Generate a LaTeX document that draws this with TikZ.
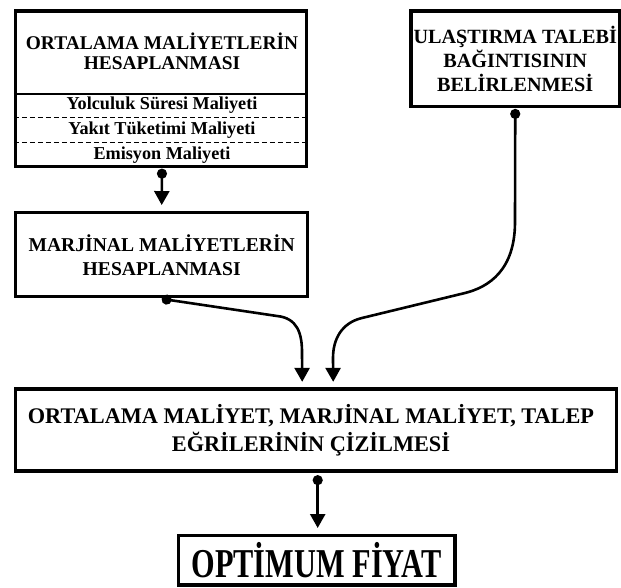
\documentclass[tikz,border=0pt]{standalone}
\usepackage{fontspec}
\usepackage{graphicx}
\setmainfont{Liberation Serif}
\usetikzlibrary{arrows.meta,calc}
\begin{document}
\begin{tikzpicture}[x=1pt,y=-1pt,
  box/.style={draw, line width=3.3pt, inner sep=0pt, align=center},
  lbl/.style={inner sep=0pt, align=center, font=\bfseries},
  divider/.style={line width=2.6pt},
  dashdiv/.style={line width=0.9pt, dash pattern=on 5pt off 3pt},
  conn/.style={line width=2.6pt, {Circle[length=10pt]}-{Triangle[width=15pt,length=14pt]}}]
\useasboundingbox (0,0) rectangle (621,588);

% Box 1: Ortalama maliyetler
\node[box, minimum width=291pt, minimum height=155.5pt] (ort) at (161,88.75) {};
\node[lbl, font=\bfseries\fontsize{19.4}{20}\selectfont] (ortt) at (162,51.5) {ORTALAMA MALİYETLERİN\\HESAPLANMASI};
\draw[divider] (ort.west |- 0,94) coordinate (d0l) -- (ort.east |- 0,94) coordinate (d0r);
\draw[dashdiv] (ort.west |- 0,117) coordinate (d1l) -- (ort.east |- 0,117) coordinate (d1r);
\draw[dashdiv] (ort.west |- 0,142) coordinate (d2l) -- (ort.east |- 0,142) coordinate (d2r);
\node[lbl, anchor=base, font=\bfseries\fontsize{18.2}{20}\selectfont] (s1) at (162,110) {Yolculuk Süresi Maliyeti};
\node[lbl, anchor=base, font=\bfseries\fontsize{18.2}{20}\selectfont] (s2) at (162,135) {Yakıt Tüketimi Maliyeti};
\node[lbl, anchor=base, font=\bfseries\fontsize{18.2}{20}\selectfont] (s3) at (162,159.5) {Emisyon Maliyeti};

% Box 2: Ulastirma talebi
\node[box, minimum width=208.5pt, minimum height=95.7pt, font=\bfseries\fontsize{20.2}{24}\selectfont] (ulas) at (515.25,58.9) {ULAŞTIRMA TALEBİ\\BAĞINTISININ\\BELİRLENMESİ};

% Box 3: Marjinal maliyetler
\node[box, minimum width=292pt, minimum height=84pt, font=\bfseries\fontsize{19.6}{24}\selectfont] (marj) at (161.7,254.7) {MARJİNAL MALİYETLERİN\\HESAPLANMASI};

% Box 4: Egriler
\node[box, minimum width=601pt, minimum height=82pt] (egri) at (316.2,430) {};
\node[lbl, font=\bfseries\fontsize{22.3}{28}\selectfont] (egrit) at (311,430) {ORTALAMA MALİYET, MARJİNAL MALİYET, TALEP\\EĞRİLERİNİN ÇİZİLMESİ};

% Box 5: Optimum fiyat
\node[box, minimum width=276.7pt, minimum height=49.3pt, font=\bfseries] (opt) at (316.7,560.3) {\scalebox{0.74}[1]{\fontsize{41}{41}\selectfont OPTİMUM FİYAT}};

% Connectors
\draw[conn] ($(ort.south)+(1,0.5)$) -- ($(marj.north)+(0,-6)$);
\draw[conn] ($(marj.south)+(0,0.5)$) -- (277,316) .. controls (297,318) and (302,333) .. (302,352) -- ($(egri.north)+(-14,-5.5)$);
\draw[conn] ($(ulas.south)+(0,0.5)$) -- (515,222) .. controls (515,270) and (489,287) .. (465,293) -- (362,318) .. controls (341,323) and (333,340) .. (333,358) -- ($(egri.north)+(17,-5.5)$);
\draw[conn] ($(egri.south)+(1.5,2.5)$) -- ($(opt.north)+(1,-6)$);
\end{tikzpicture}
\end{document}
